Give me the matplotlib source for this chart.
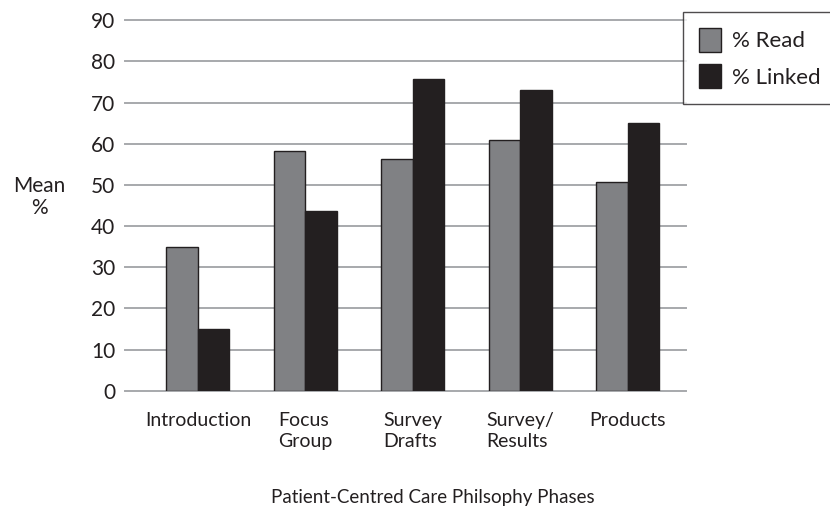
import numpy as np
import matplotlib
matplotlib.use('Agg')
import matplotlib.pyplot as plt

plt.rcParams['font.family'] = ['Lato', 'DejaVu Sans']

# 数据
phases = ['Introduction', 'Focus\nGroup', 'Survey\nDrafts', 'Survey/\nResults', 'Products']
pct_read = [35.0, 58.3, 56.3, 60.8, 50.8]
pct_linked = [15.0, 43.6, 75.8, 73.0, 65.0]

gray = '#808184'
black = '#231f20'
grid_c = '#a7a9ac'

fig = plt.figure(figsize=(8.3, 5.13), dpi=100)
ax = fig.add_axes([0.1506, 0.2384, 0.8265 - 0.1506, 0.9604 - 0.2384])

x = np.arange(len(phases))
w = 0.293
ax.bar(x - w / 2, pct_read, w, color=gray, edgecolor=black, linewidth=1.0,
       label='% Read', zorder=3)
ax.bar(x + w / 2, pct_linked, w, color=black, edgecolor=black, linewidth=1.0,
       label='% Linked', zorder=3)

ax.set_xlim(-0.679, 4.54)
ax.set_ylim(0, 90)
ax.set_yticks(np.arange(0, 91, 10))
ax.yaxis.grid(True, color=grid_c, linewidth=1.4, zorder=0)
for gl in ax.get_ygridlines():
    gl.set_clip_on(False)
for s in ax.spines.values():
    s.set_visible(False)
ax.tick_params(axis='y', length=0, pad=7, labelsize=15, labelcolor=black)
ax.tick_params(axis='x', length=0, pad=15, labelsize=14, labelcolor=black)
ax.set_xticks(x)
ax.set_xticklabels(phases, multialignment='left', linespacing=1.35)
ax.get_xticklabels()[0].set_x(-0.09)  # Introduction 稍微偏左

# 坐标轴标题
fig.text(433 / 830, 1 - 497 / 513, 'Patient-Centred Care Philsophy Phases',
         ha='center', va='center', fontsize=13.5, color=black)
fig.text(39 / 830, 1 - 197 / 513, 'Mean\n%', ha='center', va='center',
         fontsize=15, color=black, linespacing=1.1)

leg = ax.legend(loc='upper left', bbox_to_anchor=(683 / 830, 1 - 12 / 513),
                bbox_transform=fig.transFigure, fontsize=16, frameon=True,
                fancybox=False, edgecolor=black, handlelength=1.0,
                handleheight=1.3, handletextpad=0.5, labelspacing=0.55,
                borderpad=0.7, borderaxespad=0)
leg.get_frame().set_linewidth(1.0)
for t in leg.get_texts():
    t.set_color(black)

fig.savefig('out.png', dpi=100)
